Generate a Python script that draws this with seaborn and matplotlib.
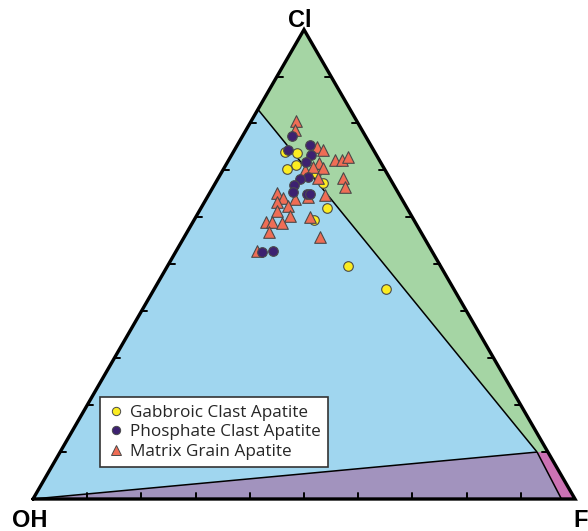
import numpy as np
import pandas as pd
import matplotlib
matplotlib.use("Agg")
import matplotlib.pyplot as plt
from matplotlib.patches import Polygon
from matplotlib.lines import Line2D
import seaborn as sns

# ---------------- data (ternary fractions: Cl, F ; OH = 1 - Cl - F) ----------------
gabbro_cl = [0.739, 0.737, 0.712, 0.703, 0.695, 0.673, 0.620, 0.594, 0.496, 0.447]
gabbro_f = [0.096, 0.118, 0.129, 0.117, 0.175, 0.199, 0.232, 0.221, 0.333, 0.428]

phos_cl = [0.773, 0.754, 0.743, 0.733, 0.718, 0.686, 0.682, 0.669, 0.654, 0.650, 0.650, 0.526, 0.528]
phos_f = [0.091, 0.134, 0.099, 0.146, 0.145, 0.164, 0.152, 0.147, 0.153, 0.181, 0.186, 0.160, 0.179]

matrix_cl = [0.805, 0.786, 0.750, 0.744, 0.722, 0.722, 0.729, 0.716, 0.701, 0.707,
             0.705, 0.684, 0.684, 0.665, 0.652, 0.641, 0.633, 0.639, 0.643, 0.648,
             0.624, 0.614, 0.603, 0.590, 0.590, 0.588, 0.569, 0.601, 0.558, 0.528]
matrix_f = [0.083, 0.090, 0.149, 0.163, 0.196, 0.209, 0.217, 0.170, 0.151, 0.163,
            0.183, 0.184, 0.230, 0.243, 0.124, 0.141, 0.134, 0.164, 0.186, 0.215,
            0.158, 0.143, 0.173, 0.135, 0.146, 0.165, 0.151, 0.211, 0.251, 0.149]

series_names = ["Gabbroic Clast Apatite", "Phosphate Clast Apatite", "Matrix Grain Apatite"]
vertex_labels = ["OH", "F", "Cl"]

# field boundary points (Cl, F)
pt_left = (0.83, 0.0)     # on OH-Cl edge
pt_mid = (0.10, 0.88)     # triple point
pt_right = (0.10, 0.90)   # on F-Cl edge
pt_base = (0.0, 0.975)    # on OH-F edge

SQ = np.sqrt(3) / 2


def tern(cl, f):
    cl = np.asarray(cl, float)
    f = np.asarray(f, float)
    return f + cl / 2, cl * SQ


# ---------------- figure ----------------
sns.set_theme(style="white")
plt.rcParams["font.family"] = ["Liberation Sans", "DejaVu Sans"]

fig = plt.figure(figsize=(5.88, 5.31), dpi=100)
ax = fig.add_axes([0, 0, 1, 1])
W = 542.0
ax.set_xlim(-33 / W, (588 - 33) / W)
ax.set_ylim((499 - 531) / W, 499 / W)
ax.set_aspect("equal")
ax.axis("off")

OHv = tern(0, 0)
Fv = tern(0, 1)
Clv = tern(1, 0)
L = tern(*pt_left)
P = tern(*pt_mid)
R = tern(*pt_right)
Q = tern(*pt_base)

c_blue = "#a0d6ef"
c_green = "#a5d5a4"
c_purple = "#a293be"
c_pink = "#cc72b4"

ax.add_patch(Polygon([OHv, L, P], closed=True, fc=c_blue, ec="none", zorder=1))
ax.add_patch(Polygon([L, Clv, R, P], closed=True, fc=c_green, ec="none", zorder=1))
ax.add_patch(Polygon([OHv, P, Q], closed=True, fc=c_purple, ec="none", zorder=1))
ax.add_patch(Polygon([P, R, Fv, Q], closed=True, fc=c_pink, ec="none", zorder=1))

for a, b in [(L, P), (OHv, P), (P, Q)]:
    ax.plot([a[0], b[0]], [a[1], b[1]], color="black", lw=1.1, zorder=2,
            solid_capstyle="butt")

# ticks
tl = 6 / W
for i in range(1, 10):
    t = i / 10
    x, y = tern(0, t)
    ax.plot([x, x], [y, y + tl], color="black", lw=1.4, zorder=3)
    x, y = tern(t, 0)
    ax.plot([x, x + tl], [y, y], color="black", lw=1.4, zorder=3)
    x, y = tern(t, 1 - t)
    ax.plot([x, x - tl], [y, y], color="black", lw=1.4, zorder=3)

tri = np.array([OHv, Fv, Clv, OHv])
ax.plot(tri[:, 0], tri[:, 1], color="black", lw=2.4, zorder=4, solid_joinstyle="miter")

# points
def frame(cl, f, name):
    x, y = tern(cl, f)
    return pd.DataFrame({"x": x, "y": y, "group": name})

df_g = frame(gabbro_cl, gabbro_f, series_names[0])
df_p = frame(phos_cl, phos_f, series_names[1])
df_m = frame(matrix_cl, matrix_f, series_names[2])

edge = "#4a4a4a"
c_yel = "#fbec21"
c_dp = "#3d2170"
c_sal = "#ef6d55"
sns.scatterplot(data=df_g, x="x", y="y", color=c_yel, marker="o", s=48,
                edgecolor=edge, linewidth=0.8, ax=ax, zorder=5, legend=False)
sns.scatterplot(data=df_m, x="x", y="y", color=c_sal, marker="^", s=70,
                edgecolor=edge, linewidth=0.8, ax=ax, zorder=6, legend=False)
sns.scatterplot(data=df_p, x="x", y="y", color=c_dp, marker="o", s=48,
                edgecolor=edge, linewidth=0.8, ax=ax, zorder=7, legend=False)
ax.set_xlabel("")
ax.set_ylabel("")

handles = [
    Line2D([], [], ls="none", marker="o", ms=6, mfc=c_yel, mec=edge, mew=0.7),
    Line2D([], [], ls="none", marker="o", ms=6, mfc=c_dp, mec=edge, mew=0.7),
    Line2D([], [], ls="none", marker="^", ms=7, mfc=c_sal, mec=edge, mew=0.7),
]
leg = ax.legend(handles, series_names, loc="upper left",
                bbox_to_anchor=(100 / 588, 1 - 397 / 531), borderaxespad=0,
                frameon=True, fancybox=False, framealpha=1, edgecolor="#333333",
                prop={"family": ["Open Sans", "DejaVu Sans"], "size": 12.3},
                handletextpad=0.3, handlelength=1.0, borderpad=0.45,
                labelspacing=0.2)
leg.get_frame().set_linewidth(1.2)
leg.set_zorder(10)

# vertex labels
lab = dict(fontsize=17, fontweight="bold", color="black", zorder=11)
ax.text(Clv[0] - 4 / W, Clv[1] + 3 / W, vertex_labels[2], ha="center", va="baseline", **lab)
ax.text(OHv[0] - 3 / W, OHv[1] - 10 / W, vertex_labels[0], ha="center", va="top", **lab)
ax.text(Fv[0] + 6 / W, Fv[1] - 10 / W, vertex_labels[1], ha="center", va="top", **lab)

fig.savefig("out.png", dpi=100)
